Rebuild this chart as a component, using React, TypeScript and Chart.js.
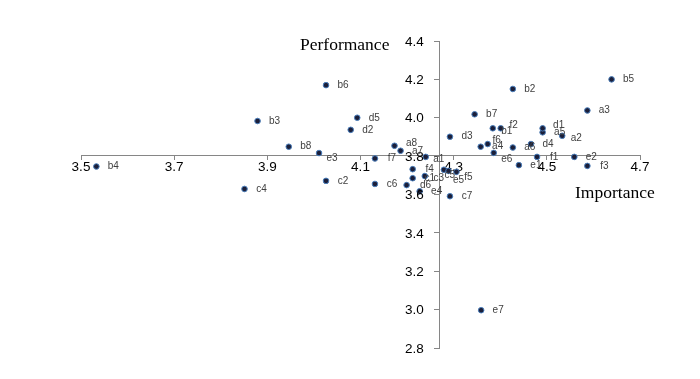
import React, { useEffect, useRef } from "react";
import { Chart, registerables } from "chart.js";

Chart.register(...registerables);

// ---- Data ----
const pointNames = [
  "a1", "a2", "a3", "a4", "a5", "a6", "a7", "a8",
  "b1", "b2", "b3", "b4", "b5", "b6", "b7", "b8",
  "c1", "c2", "c3", "c4", "c5", "c6", "c7",
  "d1", "d2", "d3", "d4", "d5", "d6",
  "e1", "e2", "e3", "e4", "e5", "e6", "e7",
  "f1", "f2", "f3", "f4", "f5", "f6", "f7",
];

const importance = [
  4.240, 4.533, 4.587, 4.358, 4.491, 4.427, 4.186, 4.173,
  4.384, 4.427, 3.879, 3.533, 4.639, 4.026, 4.345, 3.946,
  4.212, 4.026, 4.238, 3.851, 4.279, 4.131, 4.292,
  4.491, 4.079, 4.292, 4.466, 4.093, 4.199,
  4.440, 4.559, 4.011, 4.227, 4.289, 4.386, 4.359,
  4.479, 4.401, 4.587, 4.212, 4.306, 4.373, 4.131,
];

const performance = [
  3.796, 3.906, 4.038, 3.849, 3.924, 3.845, 3.828, 3.854,
  3.945, 4.150, 3.983, 3.746, 4.200, 4.170, 4.018, 3.849,
  3.685, 3.671, 3.696, 3.629, 3.729, 3.655, 3.591,
  3.945, 3.937, 3.901, 3.863, 4.000, 3.649,
  3.753, 3.796, 3.816, 3.617, 3.723, 3.817, 2.997,
  3.796, 3.945, 3.749, 3.732, 3.718, 3.863, 3.788,
];

const X_MIN = 3.5;
const X_MAX = 4.7;
const Y_MIN = 2.8;
const Y_MAX = 4.4;
const TICK_STEP = 0.2;
const X_CROSS = 4.27; // where the vertical axis crosses
const Y_CROSS = 3.805; // where the horizontal axis crosses

const X_TITLE = "Importance";
const Y_TITLE = "Performance";

const TICK_FONT = '13.5px "Liberation Sans", Arial, sans-serif';

// label placement (centre offset from point, px)
const DEFAULT_OFFSET = [17, 0];
const LABEL_OFFSETS: Record<string, number[]> = {
  a8: [17, -3],
  a1: [13, 2],
  c3: [14, 2],
  d6: [19, 0],
  c5: [6, 6],
  e5: [10, 9],
  f5: [12, 5],
  e3: [13, 5],
  f2: [13, -3],
  b1: [14, 3],
  d1: [16, -3],
  a2: [14, 2],
  f6: [9, -4],
  e6: [13, 6],
};

const overlayPlugin = {
  id: "overlayText",
  afterDatasetsDraw(chart: any) {
    const ctx = chart.ctx;
    const meta = chart.getDatasetMeta(0);
    const xs = chart.scales.x;
    const ys = chart.scales.y;
    ctx.save();
    // y-axis tick labels, to the left of the crossing axis
    const axisX = xs.getPixelForValue(X_CROSS);
    ctx.font = TICK_FONT;
    ctx.fillStyle = "#000000";
    ctx.textAlign = "right";
    ctx.textBaseline = "middle";
    ys.ticks.forEach((t: any) => {
      ctx.fillText(Number(t.value).toFixed(1), axisX - 16, ys.getPixelForValue(t.value) + 1);
    });
    // point labels
    ctx.font = '10px "Liberation Sans", Arial, sans-serif';
    ctx.fillStyle = "#404040";
    ctx.textAlign = "center";
    meta.data.forEach((el: any, i: number) => {
      const name = pointNames[i];
      const off = LABEL_OFFSETS[name] || DEFAULT_OFFSET;
      ctx.fillText(name, el.x + off[0], el.y + off[1]);
    });
    // axis titles
    ctx.font = '17.5px "Liberation Serif", "Times New Roman", serif';
    ctx.fillStyle = "#000000";
    ctx.textAlign = "left";
    ctx.fillText(Y_TITLE, 300, 45);
    ctx.fillText(X_TITLE, 575, 193);
    ctx.restore();
  },
};

export default function App() {
  const canvasRef = useRef<HTMLCanvasElement | null>(null);

  useEffect(() => {
    if (!canvasRef.current) return;
    const data = pointNames.map((_, i) => ({ x: importance[i], y: performance[i] }));
    const tickFont = { family: '"Liberation Sans", Arial, sans-serif', size: 13.5 };
    const chart = new Chart(canvasRef.current, {
      type: "scatter",
      data: {
        datasets: [
          {
            label: "items",
            data,
            backgroundColor: "#1b1f3a",
            borderColor: "#4a7ebb",
            borderWidth: 1,
            pointRadius: 2.8,
            pointHoverRadius: 2.8,
          },
        ],
      },
      options: {
        responsive: true,
        maintainAspectRatio: false,
        animation: false,
        layout: { padding: { left: 81, right: 60, top: 41, bottom: 31 } },
        plugins: {
          legend: { display: false },
          tooltip: { enabled: false },
        },
        scales: {
          x: {
            type: "linear",
            position: { y: Y_CROSS } as any,
            min: X_MIN,
            max: X_MAX,
            ticks: {
              stepSize: TICK_STEP,
              color: "#000000",
              font: tickFont,
              padding: 0,
              callback: (v: any) => Number(v).toFixed(1),
            },
            grid: {
              display: true,
              drawOnChartArea: false,
              drawTicks: true,
              tickLength: 4,
              color: "#868686",
            },
            border: { display: true, color: "#868686", width: 1 },
          },
          y: {
            type: "linear",
            position: { x: X_CROSS } as any,
            min: Y_MIN,
            max: Y_MAX,
            ticks: {
              stepSize: TICK_STEP,
              display: false,
            },
            grid: {
              display: true,
              drawOnChartArea: false,
              drawTicks: true,
              tickLength: 5,
              color: "#868686",
            },
            border: { display: true, color: "#868686", width: 1 },
          },
        },
      },
      plugins: [overlayPlugin],
    });
    return () => chart.destroy();
  }, []);

  return (
    <div style={{ position: "fixed", left: 0, top: 0, width: 700, height: 379, background: "#ffffff" }}>
      <canvas ref={canvasRef} />
    </div>
  );
}
